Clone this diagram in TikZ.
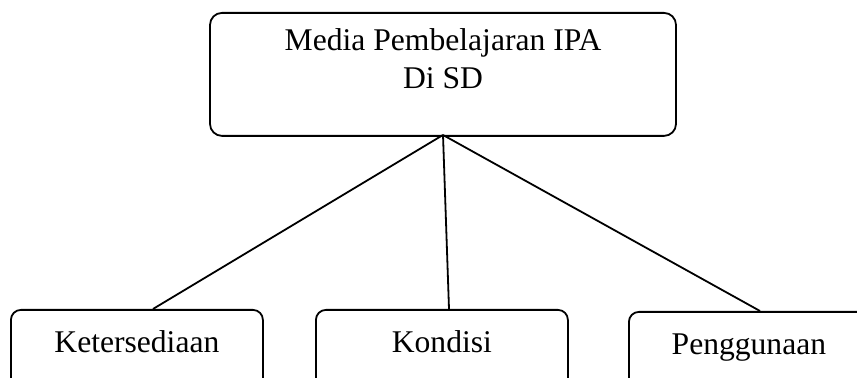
\documentclass[tikz,border=0pt]{standalone}
\usepackage{fontspec}
\setmainfont{Liberation Serif}
\usepackage{tikz}
\usetikzlibrary{positioning}

\begin{document}
\begin{tikzpicture}[
    x=0.5pt, y=-0.5pt,
    topbox/.style={draw, rounded corners=6pt, line width=0.9pt, inner sep=0pt,
                minimum width=233pt, align=center,
                font=\fontsize{15.8}{16.5}\selectfont},
    subbox/.style={draw, rounded corners=5pt, line width=0.9pt, inner sep=0pt,
                minimum width=126pt, text height=21.5pt, text depth=24pt,
                font=\fontsize{15.8}{16.5}\selectfont},
    conn/.style={line width=0.9pt}
]
\useasboundingbox (0,0) rectangle (857,378);
\clip (0,0) rectangle (857,378);

% --- Top node ---
\node[topbox, anchor=north, text height=38pt, text depth=23.5pt] (media) at (443,12)
    {Media Pembelajaran IPA\\[2.5pt]Di SD};
\coordinate (hub) at (443,135);

% --- Bottom row ---
\node[subbox, anchor=north west] (sedia) at (10,309) {Ketersediaan};
\node[subbox, anchor=north west] (kondisi) at (315,309) {Kondisi};
\node[subbox, anchor=north west, minimum width=120pt] (guna) at (628,311) {Penggunaan};

% --- Connectors ---
\draw[conn] (hub) -- (sedia.north -| 153,0);
\draw[conn] (hub) -- (kondisi.north -| 449,0);
\draw[conn] (hub) -- (guna.north -| 760,0);

\end{tikzpicture}
\end{document}
